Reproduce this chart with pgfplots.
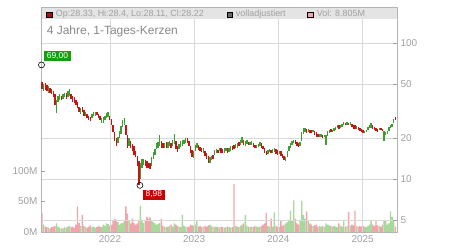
\documentclass[border=0pt]{standalone}
\usepackage{fontspec}
\setmainfont{Liberation Sans}
\usepackage{pgfplots}
\usepackage{pgfplotstable}
\usetikzlibrary{calc}
\pgfplotsset{compat=1.18}
\definecolor{candgreen}{HTML}{3CA030}
\definecolor{candred}{HTML}{C81414}
\definecolor{volgreen}{HTML}{A6D99B}
\definecolor{volpink}{HTML}{F2A4AC}
\definecolor{gridgray}{HTML}{D9D9D9}
\definecolor{axisgray}{HTML}{B4B4B4}
\definecolor{tickgray}{HTML}{A0A0A0}
\definecolor{headgray}{HTML}{E4E4E4}
\definecolor{titlegray}{HTML}{888888}
\definecolor{labgreen}{HTML}{13A00F}
\definecolor{labred}{HTML}{CC0000}
\pgfplotstableread{
w lo hi up vol
10 46 52 0 31
11 44 50 1 12
12 45 51 0 9
13 44 49 0 8
14 43 48 1 7
15 43 47 0 6
16 42 46 0 8
17 40 44 0 9
18 35 42 0 10
19 30.6 38 1 14
20 37 41 1 9
21 38 42 1 7
22 38 41 0 6
23 39 42 1 6
24 40 43 1 8
25 39 43 0 7
26 40 44 1 9
27 41 46 1 10
28 39 42 0 8
29 37 41 0 9
30 36 40 0 7
31 35 38 0 12
32 33 37 0 42
33 31 34 0 15
34 30 33 1 10
35 31 34 0 28
36 29 32 0 10
37 29 31 1 8
38 28 30 0 7
39 27 29 0 9
40 26.5 28.5 0 11
41 28 30 1 8
42 29 31 1 9
43 29 31 1 7
44 29.5 31 0 8
45 28 30 0 10
46 27 29 0 9
47 26 28 1 8
48 26 28.5 1 12
49 27 29 1 10
50 28 30.5 1 14
51 28.5 31 1 13
52 27 29 0 10
53 25 27.5 0 12
54 22 25 0 18
55 19 22 0 22
56 17.5 20 0 20
57 18.5 20.5 1 16
58 20 22.5 1 12
59 21.5 24.5 1 14
60 24 27 1 15
61 25 28 1 18
62 21 25 0 42
63 17 21 0 30
64 17.5 20 1 20
65 17 19 0 14
66 16 18 0 22
67 15 17.5 0 15
68 14.5 16 0 12
69 12.5 14.8 0 14
70 8.98 13.5 0 18
71 10 13 1 43
72 12 14 1 20
73 12.7 14 1 15
74 12.5 13.8 0 18
75 12 13.5 0 25
76 12 13.2 0 22
77 11.8 13 0 24
78 12.5 14.5 1 18
79 14 15.8 1 16
80 15 16.5 1 14
81 16.5 18.5 1 12
82 17 18.8 1 13
83 17.5 21 1 15
84 17 19 0 22
85 16.8 18.4 0 10
86 17 18.5 1 9
87 17 18.6 0 8
88 17 18.7 1 9
89 17.5 19 1 10
90 16.9 18.5 0 12
91 17.5 19.5 1 9
92 18 21.5 1 14
93 16.5 19 0 12
94 15.8 17.5 0 10
95 16.5 18 1 9
96 17.2 19 1 8
97 17.5 19.4 1 28
98 18 19.5 1 10
99 18.5 20 1 9
100 18.4 20 0 8
101 17.5 19 0 9
102 15.5 17.5 0 12
103 14.5 16.3 0 11
104 14.3 16 1 10
105 16 17.8 1 12
106 16.8 18.4 1 18
107 16.3 17.8 0 9
108 16 17.2 0 10
109 15.8 17 0 8
110 15.6 16.8 1 9
111 14.8 16.2 0 10
112 14 15.5 0 9
113 13.2 14.8 0 11
114 13.1 14.5 1 12
115 13.8 14.8 1 10
116 14 15 0 9
117 15 16.3 1 8
118 15.4 16.5 1 9
119 15.5 16.4 0 8
120 16 17 1 7
121 15.6 16.8 0 9
122 15.5 16.5 0 8
123 15.5 16.8 1 7
124 16 17 1 8
125 15.6 16.8 0 9
126 15.8 17 1 8
127 16.2 17.4 1 7
128 16.3 17.6 0 8
129 16.5 17.8 0 79
130 16.8 18 1 10
131 17 18.3 1 9
132 17.4 18.6 0 8
133 17.8 19.5 1 10
134 18.5 20.3 1 12
135 17.8 19.2 0 14
136 17.5 19 1 28
137 18 19.2 1 10
138 17.8 18.8 0 9
139 17.8 18.7 1 8
140 17.8 18.9 1 9
141 17.2 18.4 0 8
142 16.9 17.8 0 10
143 16.9 17.8 1 9
144 17.2 18.2 1 8
145 17.5 18.6 1 9
146 17 18.4 0 10
147 16.5 17.6 0 12
148 15.6 16.8 0 14
149 15 16.2 0 31
150 15.2 16.3 1 10
151 15.8 16.6 1 9
152 15.5 16.4 0 22
153 15.5 16.5 1 9
154 15.8 16.8 1 32
155 15.3 16.5 0 10
156 15 16.3 0 9
157 15.2 16.2 1 8
158 14.8 16 0 18
159 14.2 15.3 0 10
160 13.8 14.8 0 12
161 13.6 14.6 1 14
162 14.5 16 1 16
163 16 17.5 1 20
164 16.8 18.4 1 35
165 17.8 19 1 18
166 18.3 19.4 1 52
167 18.2 19.5 0 22
168 17.5 18.8 0 14
169 17.2 18.4 0 12
170 17.5 18.8 1 20
171 19 22 1 51
172 21.5 23.6 1 28
173 22 23.7 1 22
174 21.8 23.2 0 34
175 22 23.5 1 18
176 21.8 23 0 14
177 21.8 22.8 0 12
178 22 23 1 10
179 21.2 22.5 0 11
180 20.5 22 0 12
181 20.3 21.5 0 9
182 20.2 21.3 1 10
183 20.4 21.5 1 9
184 20 21.2 0 10
185 20.2 21.1 1 9
186 17.8 21 1 14
187 20.8 22.5 1 12
188 21.8 23 1 11
189 22 23.2 0 10
190 22 23 1 9
191 22.5 23.6 1 10
192 23 24.2 1 9
193 23.7 24.9 1 8
194 23.5 24.8 0 14
195 23.7 25 1 10
196 24.2 25.3 1 9
197 24.9 26.2 1 20
198 24.8 26 0 9
199 25 26.3 1 10
200 24.9 26 0 33
201 24.8 26.2 1 10
202 24 25.5 0 12
203 23.5 25 0 11
204 23.2 24.8 0 35
205 23.5 24.6 1 10
206 23 24.3 0 9
207 22.5 23.6 0 10
208 22 23.2 0 9
209 21.8 22.9 0 10
210 21.8 22.6 1 9
211 22 23 1 8
212 22.8 24 1 10
213 23.6 24.9 1 12
214 23.8 25.8 1 20
215 23.5 24.9 0 12
216 23 24.2 0 10
217 22.5 23.7 0 18
218 22.2 23.4 0 11
219 22.8 23.8 1 10
220 22.8 23.6 0 9
221 22.5 23.5 0 12
222 18.9 22.5 1 18
223 21 22.2 1 20
224 21.5 22.5 1 12
225 22.5 24 1 14
226 23.7 25 1 34
227 24 25.5 1 25
228 26 27.6 1 18
229 27 28.4 0 9
}\data
\begin{document}
\begin{tikzpicture}
\path[use as bounding box] (0,0) rectangle (450bp,250bp);
% volume axis
\begin{axis}[
  scale only axis, width=356bp, height=225bp,
  at={(41bp,18bp)}, anchor=south west,
  xmin=9.38, xmax=230, ymin=0, ymax=369,
  axis x line=none, axis y line*=left,
  y axis line style={draw=axisgray},
  ytick={0,50,100}, yticklabels={0M,50M,100M},
  tick align=inside, major tick length=4bp,
  ytick style={draw=tickgray, line width=0.8bp},
  yticklabel style={font=\fontsize{10}{12}\selectfont, text=tickgray},
  /pgf/number format/assume math mode=true,
]
\addplot[ybar, bar width=1.4bp, bar shift=0pt, draw=none, fill=volpink,
  restrict expr to domain={\thisrow{up}}{-0.5:0.5}] table[x=w,y=vol]{\data};
\addplot[ybar, bar width=1.4bp, bar shift=0pt, draw=none, fill=volgreen,
  restrict expr to domain={\thisrow{up}}{0.5:1.5}] table[x=w,y=vol]{\data};
\end{axis}
% price axis
\begin{axis}[
  scale only axis, width=356bp, height=225bp,
  at={(41bp,18bp)}, anchor=south west,
  xmin=9.38, xmax=230, ymode=log, ymin=4.077, ymax=183.9,
  axis line style={draw=axisgray, line width=0.8bp},
  ytick={5,10,20,50,100}, yticklabels={5,10,20,50,100},
  xtick={52.14,104.29,156.43,208.71}, xticklabels={2022,2023,2024,2025},
  ytick pos=right, yticklabel pos=right, xtick pos=bottom,
  yminorticks=false, xminorticks=false,
  tick align=inside, major tick length=4bp,
  ytick style={draw=tickgray, line width=0.8bp},
  xtick style={draw=none},
  grid=major, grid style={draw=gridgray, line width=0.8bp},
  ticklabel style={font=\fontsize{10}{12}\selectfont, text=tickgray},
  /pgf/number format/assume math mode=true,
  clip=false,
]
\addplot[draw=none, mark=none,
  restrict expr to domain={\thisrow{up}}{-0.5:0.5},
  error bars/.cd, y dir=plus, y explicit, error mark=none,
  error bar style={draw=candred, line width=1.4bp}]
  table[x=w, y=lo, y error expr=\thisrow{hi}-\thisrow{lo}]{\data};
\addplot[draw=none, mark=none,
  restrict expr to domain={\thisrow{up}}{0.5:1.5},
  error bars/.cd, y dir=plus, y explicit, error mark=none,
  error bar style={draw=candgreen, line width=1.4bp}]
  table[x=w, y=lo, y error expr=\thisrow{hi}-\thisrow{lo}]{\data};
% header band
\fill[headgray] (rel axis cs:0,0.9467) rectangle (rel axis cs:1,1);
\draw[axisgray, line width=0.8bp] (rel axis cs:0,0.9467) -- (rel axis cs:0,1) -- (rel axis cs:1,1) -- (rel axis cs:1,0.9467);
\fill[fill=candred!85!black, draw=black, line width=0.5bp] ($(rel axis cs:0.0233,0.9667)+(-2.7bp,-2.7bp)$) rectangle ++(5.4bp,5.4bp);
\node[anchor=base west, inner sep=0pt, font=\fontsize{9}{11}\selectfont, text=tickgray] at (rel axis cs:0.0413,0.9587) {Op:28.33, Hi:28.4, Lo:28.11, Cl:28.22};
\fill[fill=black!60, draw=black, line width=0.5bp] ($(rel axis cs:0.5295,0.9667)+(-2.7bp,-2.7bp)$) rectangle ++(5.4bp,5.4bp);
\node[anchor=base west, inner sep=0pt, font=\fontsize{9}{11}\selectfont, text=tickgray] at (rel axis cs:0.5469,0.9587) {volladjustiert};
\fill[fill=volpink, draw=black, line width=0.5bp] ($(rel axis cs:0.7565,0.9667)+(-2.7bp,-2.7bp)$) rectangle ++(5.4bp,5.4bp);
\node[anchor=base west, inner sep=0pt, font=\fontsize{9}{11}\selectfont, text=tickgray] at (rel axis cs:0.7744,0.9587) {Vol: 8.805M};
\node[anchor=base west, inner sep=0pt, font=\fontsize{12}{14}\selectfont, text=titlegray] at (rel axis cs:0.016,0.8787) {4 Jahre, 1-Tages-Kerzen};
% extreme markers
\addplot[only marks, mark=o, mark size=3bp, mark options={draw=black, line width=0.6bp}] coordinates {(9.69,69) (70.7,8.98)};
\node[anchor=south west, fill=labgreen, text=white, font=\fontsize{8.5}{9}\selectfont, inner xsep=3.3bp, inner ysep=0pt, minimum height=10bp] at ([shift={(1.8bp,3.3bp)}]axis cs:9.69,69) {69,00};
\node[anchor=north west, fill=labred, text=white, font=\fontsize{8.5}{9}\selectfont, inner xsep=2.5bp, inner ysep=0pt, minimum height=10bp] at ([shift={(3bp,-4bp)}]axis cs:70.7,8.98) {8,98};
\end{axis}
\end{tikzpicture}
\end{document}
